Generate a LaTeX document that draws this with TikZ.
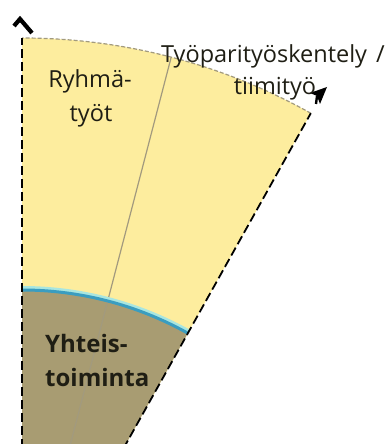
\documentclass[tikz,border=0pt]{standalone}
\usepackage{fontspec}
\setmainfont{Open Sans}
\usetikzlibrary{calc}
\definecolor{secyellow}{HTML}{FDED9E}
\definecolor{secbrown}{HTML}{A89C72}
\definecolor{secblue}{HTML}{3A9DC0}
\definecolor{sechalo}{HTML}{A8E6E0}
\definecolor{secgray}{HTML}{A29A7E}
\definecolor{textdark}{HTML}{1F1E14}
\tikzset{
  edgeline/.style={draw=black, line width=1.8pt, dash pattern=on 9pt off 4pt},
  rimline/.style={draw=secgray, line width=1.2pt, dash pattern=on 4pt off 2pt},
  midline/.style={draw=secgray, line width=1.2pt},
  lbl/.style={inner sep=0pt, text=textdark, font=\fontsize{23.5}{28}\selectfont},
  lblbold/.style={inner sep=0pt, text=textdark, font=\fontsize{24}{28}\selectfont\bfseries}
}
\begin{document}
\begin{tikzpicture}[x=1pt,y=1pt]
\useasboundingbox (0,0) rectangle (385,444);
\coordinate (C) at (22,-186);
\coordinate (outR) at ($(C)+(60.8:592)$);
\coordinate (outL) at ($(C)+(90:592)$);
\coordinate (inR) at ($(C)+(60.8:340)$);
\coordinate (mid) at ($(C)+(75.4:592)$);
\begin{scope}
\clip (0,0) rectangle (385,444);
\fill[secyellow] (C) -- (outR) arc[start angle=60.8, end angle=90, radius=592] -- cycle;
\fill[secbrown] (C) -- (inR) arc[start angle=60.8, end angle=90, radius=340] -- cycle;
\draw[midline] (C) -- (mid);
\draw[sechalo, line width=3pt] ($(C)+(60.8:342.5)$) arc[start angle=60.8, end angle=90, radius=342.5];
\draw[secblue, line width=3pt] (inR) arc[start angle=60.8, end angle=90, radius=340];
\draw[rimline] (outR) arc[start angle=60.8, end angle=90, radius=592];
\draw[edgeline] (C) -- (outL);
\draw[edgeline] (C) -- (outR);
\end{scope}
% arrowheads
\draw[black, line width=4.2pt, line join=miter] (14,418) -- (20,425) -- (32,411);
\fill[black] (327,357) -- (310,351) -- (317,348) -- (320,340) -- cycle;
\draw[black, line width=2.4pt] (317,348) -- (316,340);
% labels
\node[lbl, anchor=base] (r1) at (90,356) {Ryhmä-};
\node[lbl, anchor=base] (r2) at (91,322) {työt};
\node[lblbold, anchor=base west] (y1) at (45,91) {Yhteis-};
\node[lblbold, anchor=base west] (y2) at (45,57) {toiminta};
\node[lbl, anchor=base west] (t1) at (161,381) {Työparityöskentely\hspace{9pt}/};
\node[lbl, anchor=base] (t2) at (275,349) {tiimityö};
\end{tikzpicture}
\end{document}
